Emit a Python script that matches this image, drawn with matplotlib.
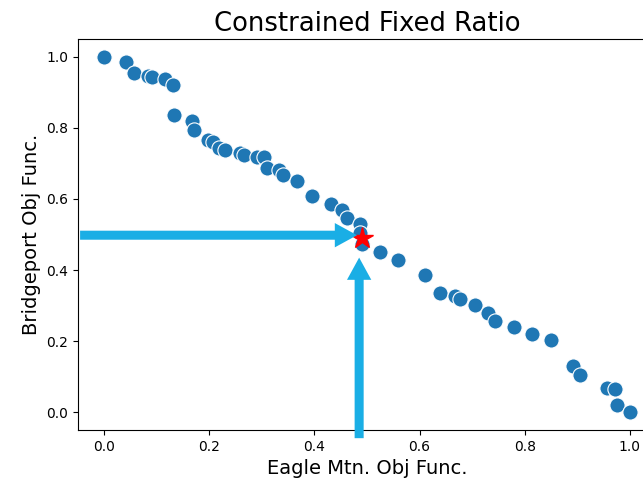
import numpy as np
import matplotlib
matplotlib.use("Agg")
import matplotlib.pyplot as plt

# Pareto points (Eagle Mtn. vs Bridgeport objective)
eagle = [0.0, 0.042, 0.057, 0.084, 0.091, 0.116, 0.131, 0.133, 0.167, 0.171,
         0.198, 0.207, 0.219, 0.230, 0.259, 0.266, 0.291, 0.304, 0.310, 0.333,
         0.340, 0.367, 0.395, 0.432, 0.452, 0.462, 0.487, 0.487, 0.490, 0.525,
         0.559, 0.610, 0.639, 0.667, 0.677, 0.705, 0.730, 0.743, 0.779, 0.814,
         0.850, 0.892, 0.905, 0.956, 0.971, 0.975, 1.0]
bridge = [1.0, 0.986, 0.955, 0.946, 0.944, 0.937, 0.921, 0.836, 0.819, 0.795,
          0.766, 0.761, 0.743, 0.738, 0.729, 0.723, 0.718, 0.719, 0.686, 0.681,
          0.668, 0.650, 0.607, 0.587, 0.568, 0.546, 0.530, 0.505, 0.472, 0.452,
          0.429, 0.387, 0.336, 0.328, 0.318, 0.302, 0.280, 0.257, 0.239, 0.220,
          0.203, 0.130, 0.105, 0.068, 0.065, 0.020, 0.0]

# chosen solution and arrows
star = [0.490, 0.489]
h_arrow = [-0.046, 0.498, 0.481, 0.498]   # x0, y0, x1, y1
v_arrow = [0.485, -0.073, 0.485, 0.435]

arrow_color = '#1aaee5'

fig = plt.figure(figsize=(6.43, 4.79), dpi=100)
ax = fig.add_axes([0.1213, 0.1023, 0.899, 0.8163])

ax.scatter(eagle, bridge, s=120, color='#1f77b4', edgecolors='white', linewidths=0.8, zorder=2)
ax.plot(star[0], star[1], marker='*', color='red', markersize=16, linestyle='none', zorder=3)

for a in [h_arrow, v_arrow]:
    ax.annotate("", xy=(a[2], a[3]), xytext=(a[0], a[1]),
                arrowprops=dict(facecolor=arrow_color, edgecolor='none',
                                width=6.5, headwidth=17.5, headlength=16, shrink=0),
                annotation_clip=False, zorder=4)

ax.set_xlim(-0.05, 1.05)
ax.set_ylim(-0.05, 1.05)
ax.set_xticks([0.0, 0.2, 0.4, 0.6, 0.8, 1.0])
ax.set_yticks([0.0, 0.2, 0.4, 0.6, 0.8, 1.0])
ax.set_title("Constrained Fixed Ratio", fontsize=18.6)
ax.set_xlabel("Eagle Mtn. Obj Func.", fontsize=14)
ax.set_ylabel("Bridgeport Obj Func.", fontsize=14)

fig.savefig("out.png", dpi=100)
